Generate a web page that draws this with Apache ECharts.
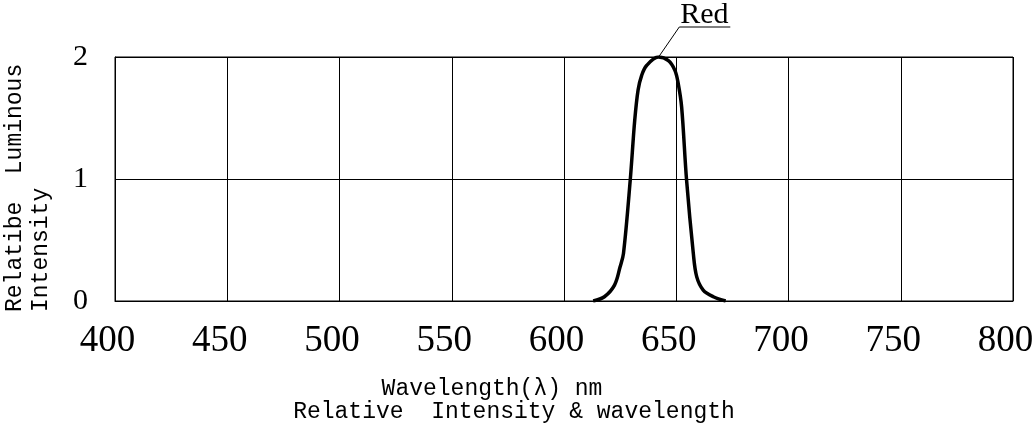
<!DOCTYPE html>
<html>
<head>
<meta charset="utf-8">
<script src="https://cdn.jsdelivr.net/npm/echarts@6/dist/echarts.min.js"></script>
<style>
html,body{margin:0;padding:0;background:#fff;}
#chart{width:1032px;height:429px;}
</style>
</head>
<body>
<div id="chart"></div>
<script>
// Data
const wavelengths = [613, 618, 622.5, 625, 626.5, 629.5, 631.5, 633, 634.6, 636.8, 642, 646.5, 649.4, 650.9, 652.4, 654.6, 657.6, 659.1, 662, 666.5, 672];
const intensity   = [0,   0.035, 0.13, 0.28, 0.39, 0.99, 1.48, 1.73, 1.85, 1.93, 2.0, 1.97, 1.89, 1.78, 1.59, 0.99, 0.39, 0.2, 0.09, 0.035, 0];
const xTicks = [400, 450, 500, 550, 600, 650, 700, 750, 800];
const yTicks = [0, 1, 2];
const seriesName = 'Red';
const peakPoint = [642, 2.0];
const xTitle = 'Wavelength(λ) nm';
const subTitle = 'Relative  Intensity & wavelength';
const yTitleA = 'Relatibe';
const yTitleB = 'Luminous';
const yTitleC = 'Intensity';

const mono = '"Liberation Mono", "DejaVu Sans Mono", monospace';
const serif = '"Liberation Serif", "DejaVu Serif", serif';

const chart = echarts.init(document.getElementById('chart'));
const option = {
  animation: false,
  backgroundColor: '#fff',
  grid: {left: 115, right: 19, top: 57, bottom: 128, show: true, borderColor: '#000', borderWidth: 1,
         containLabel: false, outerBoundsMode: 'none'},
  xAxis: {
    type: 'value', min: xTicks[0], max: xTicks[xTicks.length - 1], interval: 50,
    axisLine: {show: true, lineStyle: {color: '#000', width: 1}},
    axisTick: {show: false},
    splitLine: {show: true, lineStyle: {color: '#000', width: 1}},
    axisLabel: {color: '#000', fontFamily: serif, fontSize: 37, margin: 22, padding: [0, 15, 0, 0]}
  },
  yAxis: {
    type: 'value', min: yTicks[0], max: yTicks[yTicks.length - 1], interval: 1,
    axisLine: {show: true, lineStyle: {color: '#000', width: 1}},
    axisTick: {show: false},
    splitLine: {show: true, lineStyle: {color: '#000', width: 1}},
    axisLabel: {color: '#000', fontFamily: serif, fontSize: 30, margin: 27}
  },
  series: [{
    name: seriesName,
    type: 'line',
    smooth: 0.35,
    showSymbol: false,
    lineStyle: {color: '#000', width: 3.5},
    data: wavelengths.map((w, i) => [w, intensity[i]])
  }]
};
chart.setOption(option);

const peak = chart.convertToPixel({gridIndex: 0}, peakPoint);
const lx = peak[0] + 21, ly = peak[1] - 30;
chart.setOption({
  graphic: [
    {type: 'line', shape: {x1: peak[0] + 1, y1: peak[1] - 1, x2: lx, y2: ly}, style: {stroke: '#000', lineWidth: 1}},
    {type: 'line', shape: {x1: lx, y1: ly, x2: lx + 51, y2: ly}, style: {stroke: '#000', lineWidth: 1}},
    {type: 'text', x: lx + 25, y: ly + 3, style: {text: seriesName, font: '30px ' + serif, fill: '#000', align: 'center', verticalAlign: 'bottom'}},
    {type: 'text', x: 492, y: 389, style: {text: xTitle, font: '23px ' + mono, fill: '#000', align: 'center', verticalAlign: 'middle'}},
    {type: 'text', x: 514, y: 412, style: {text: subTitle, font: '23px ' + mono, fill: '#000', align: 'center', verticalAlign: 'middle'}},
    {type: 'text', x: 15, y: 312, rotation: Math.PI / 2, style: {text: yTitleA, font: '23px ' + mono, fill: '#000', align: 'left', verticalAlign: 'middle'}},
    {type: 'text', x: 15, y: 119, rotation: Math.PI / 2, style: {text: yTitleB, font: '23px ' + mono, fill: '#000', align: 'center', verticalAlign: 'middle'}},
    {type: 'text', x: 41, y: 312, rotation: Math.PI / 2, style: {text: yTitleC, font: '23px ' + mono, fill: '#000', align: 'left', verticalAlign: 'middle'}}
  ]
});
</script>
</body>
</html>
